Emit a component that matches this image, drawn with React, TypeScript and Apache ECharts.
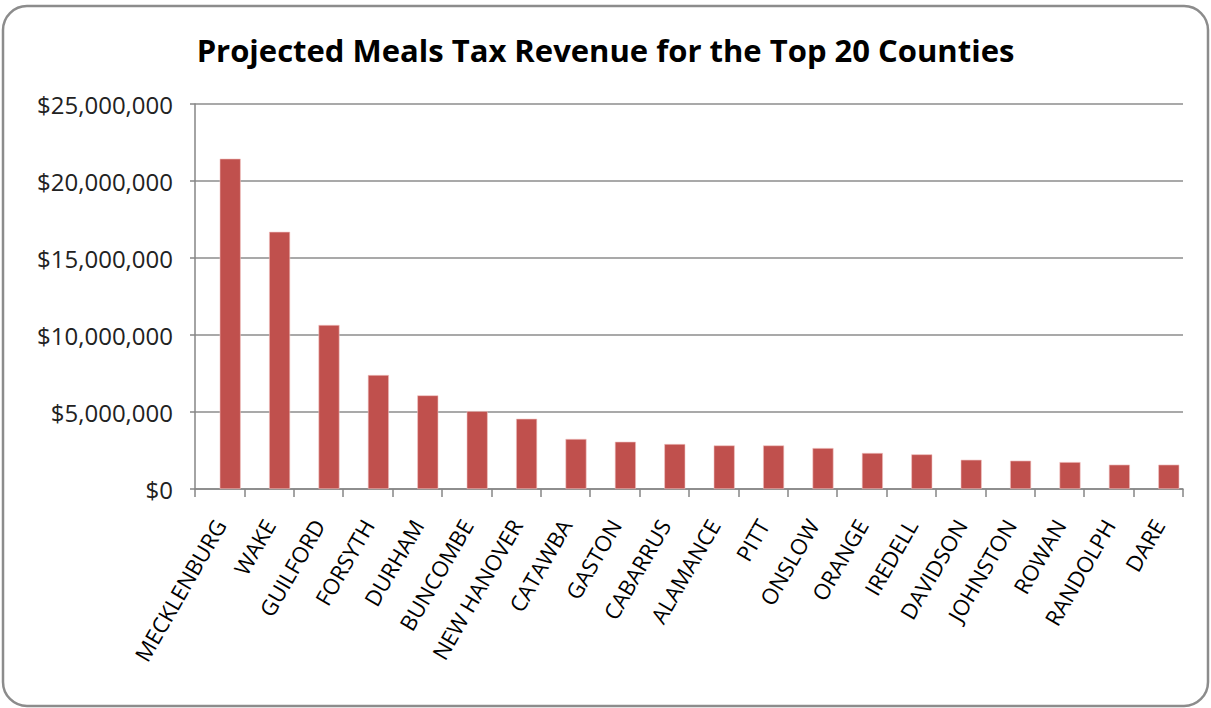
import React, { useEffect, useRef } from "react";
import * as echarts from "echarts";

const counties = [
  "MECKLENBURG", "WAKE", "GUILFORD", "FORSYTH", "DURHAM", "BUNCOMBE", "NEW HANOVER",
  "CATAWBA", "GASTON", "CABARRUS", "ALAMANCE", "PITT", "ONSLOW", "ORANGE", "IREDELL",
  "DAVIDSON", "JOHNSTON", "ROWAN", "RANDOLPH", "DARE",
];
const revenue = [
  21450000, 16700000, 10650000, 7400000, 6080000, 5060000, 4560000,
  3250000, 3070000, 2920000, 2830000, 2830000, 2660000, 2340000, 2250000,
  1900000, 1840000, 1750000, 1580000, 1580000,
];
const emptySeries = counties.map(() => null);
const yTicks = [0, 5000000, 10000000, 15000000, 20000000, 25000000];

function fmt(v: number) {
  return "$" + v.toLocaleString("en-US");
}

export default function App() {
  const ref = useRef<HTMLDivElement>(null);
  useEffect(() => {
    document.body.style.margin = "0";
    const chart = echarts.init(ref.current!, null, { renderer: "svg" });
    chart.setOption({
      animation: false,
      backgroundColor: "#ffffff",
      title: {
        text: "Projected Meals Tax Revenue for the Top 20 Counties",
        left: "center",
        top: 29,
        textStyle: {
          fontFamily: "Open Sans",
          fontWeight: "bold",
          fontSize: 31,
          color: "#000",
        },
      },
      graphic: [
        {
          type: "rect",
          shape: { x: 3, y: 6, width: 1205, height: 700, r: 24 },
          style: { fill: "none", stroke: "#8c8c8c", lineWidth: 2.5 },
          silent: true,
          z: -1,
        },
      ],
      grid: { left: 195, right: 28, top: 104, bottom: 219, containLabel: false },
      xAxis: {
        type: "category",
        data: counties,
        axisLine: { show: true, lineStyle: { color: "#868686", width: 1.5 } },
        axisTick: { show: true, alignWithLabel: false, length: 8, lineStyle: { color: "#868686", width: 1.5 } },
        axisLabel: {
          rotate: 60,
          interval: 0,
          margin: 32,
          fontFamily: "Open Sans",
          fontSize: 22,
          color: "#000",
        },
      },
      yAxis: {
        type: "value",
        min: 0,
        max: 25000000,
        interval: 5000000,
        axisLine: { show: true, lineStyle: { color: "#868686", width: 1.5 } },
        axisTick: { show: true, length: 5, lineStyle: { color: "#868686", width: 1.5 } },
        splitLine: { show: true, lineStyle: { color: "#8c8c8c", width: 1.5 } },
        axisLabel: {
          formatter: (v: number) => (yTicks.includes(v) ? fmt(v) : ""),
          margin: 22,
          fontFamily: "Open Sans",
          fontSize: 24,
          color: "#222",
        },
      },
      series: [
        {
          type: "bar",
          data: emptySeries,
          barWidth: 21,
          barGap: "0%",
          silent: true,
        },
        {
          type: "bar",
          data: revenue,
          barWidth: 21,
          barGap: "0%",
          itemStyle: { color: "#c0504d", borderColor: "#f2c4c3", borderWidth: 0.6 },
        },
      ],
    });
    return () => chart.dispose();
  }, []);
  return <div ref={ref} style={{ width: 1211, height: 708 }} />;
}
